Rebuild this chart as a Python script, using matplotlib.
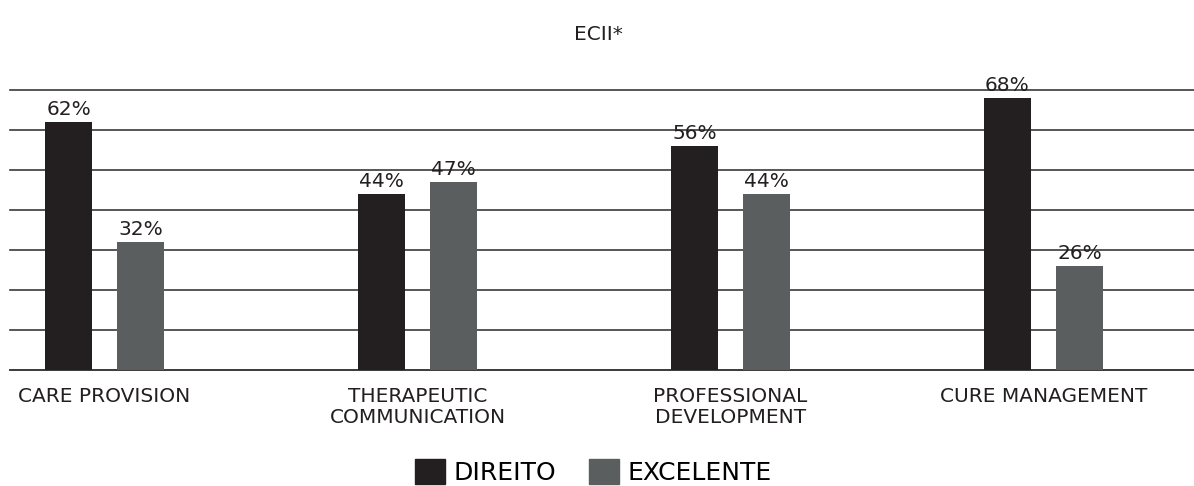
import numpy as np
import matplotlib
matplotlib.use("Agg")
import matplotlib.pyplot as plt
from matplotlib.patches import Patch

# data
categories = ["CARE PROVISION", "THERAPEUTIC\nCOMMUNICATION",
              "PROFESSIONAL\nDEVELOPMENT", "CURE MANAGEMENT"]
direito = [62, 44, 56, 68]
excelente = [32, 47, 44, 26]
series_names = ["DIREITO", "EXCELENTE"]

dark = "#231f20"
grey = "#5b5e5f"
fs = 14.5

plt.rcParams["font.family"] = "DejaVu Sans"

fig = plt.figure(figsize=(11.94, 4.86), dpi=100)
ax = fig.add_axes([10 / 1194, 1 - 370 / 486, 1 - 10 / 1194, 280 / 486])

x = np.arange(len(categories))
w = 0.15
b1 = ax.bar(x - 0.115, direito, w, color=dark, zorder=3)
b2 = ax.bar(x + 0.115, excelente, w, color=grey, zorder=3)

ax.bar_label(b1, labels=[f"{v}%" for v in direito], padding=2,
             fontsize=fs, color="#231f20")
ax.bar_label(b2, labels=[f"{v}%" for v in excelente], padding=2,
             fontsize=fs, color="#231f20")

ax.set_ylim(0, 70)
ax.set_xlim(-0.302, 3.481)
ax.set_yticks(np.arange(0, 71, 10))
ax.yaxis.grid(True, color="#3a3a3a", linewidth=1.2, zorder=0)
for gl in ax.get_ygridlines():
    gl.set_clip_on(False)
ax.tick_params(axis="y", length=0, labelleft=False)
ax.set_xticks(x)
ax.set_xticklabels(categories, fontsize=fs, color="#231f20", linespacing=1.15)
ax.tick_params(axis="x", length=0, pad=12)
for s in ["top", "right", "left"]:
    ax.spines[s].set_visible(False)
ax.spines["bottom"].set_color("#3a3a3a")
ax.spines["bottom"].set_linewidth(1.2)
ax.set_axisbelow(True)

fig.text(0.501, 1 - 35 / 486, "ECII*", ha="center", va="center",
         fontsize=fs, color="#231f20")

handles = [Patch(color=dark), Patch(color=grey)]
fig.legend(handles, series_names, loc="center",
           bbox_to_anchor=(0.497, 1 - 472 / 486), ncol=2, frameon=False,
           fontsize=18, handlelength=1.2, handleheight=1.15,
           handletextpad=0.36, columnspacing=1.3, borderpad=0)

fig.savefig("out.png", dpi=100)
